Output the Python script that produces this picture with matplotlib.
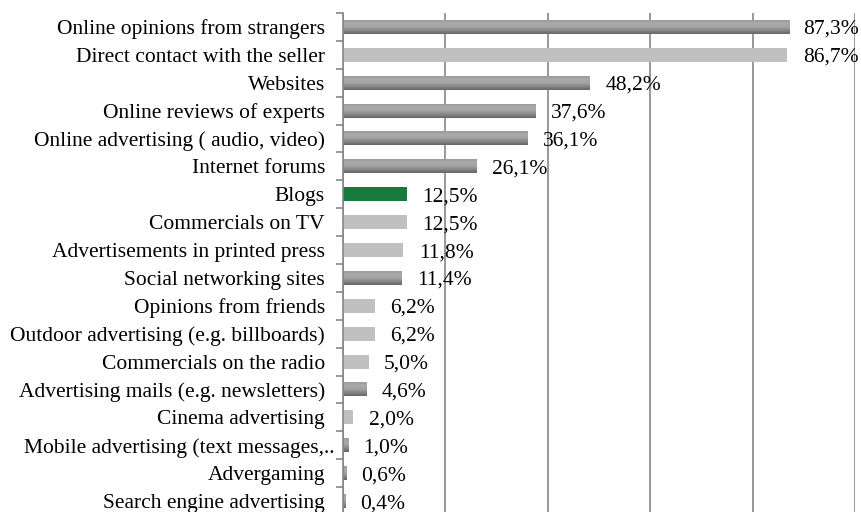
import numpy as np
import matplotlib.pyplot as plt
from matplotlib.colors import LinearSegmentedColormap
from matplotlib.transforms import ScaledTranslation

categories = [
    "Online opinions from strangers",
    "Direct contact with the seller",
    "Websites",
    "Online reviews of experts",
    "Online advertising ( audio, video)",
    "Internet forums",
    "Blogs",
    "Commercials on TV",
    "Advertisements in printed press",
    "Social networking sites",
    "Opinions from friends",
    "Outdoor advertising (e.g. billboards)",
    "Commercials on the radio",
    "Advertising mails (e.g. newsletters)",
    "Cinema advertising",
    "Mobile advertising (text messages,..",
    "Advergaming",
    "Search engine advertising",
]
values = [87.3, 86.7, 48.2, 37.6, 36.1, 26.1, 12.5, 12.5, 11.8, 11.4,
          6.2, 6.2, 5.0, 4.6, 2.0, 1.0, 0.6, 0.4]
# d = dark gradient, l = light flat, g = green
styles = ["d", "l", "d", "d", "d", "d", "g", "l", "l", "d",
          "l", "l", "l", "d", "l", "d", "d", "d"]

plt.rcParams["font.family"] = "Liberation Serif"
fs = 15.5

fig = plt.figure(figsize=(8.61, 5.12), dpi=100)
ax = fig.add_axes([343 / 861, -3 / 512, 512 / 861, 502 / 512])

y = np.arange(len(categories))
h = 0.5
grad = LinearSegmentedColormap.from_list(
    "g", ["#9c9c9c", "#ababab", "#a2a2a2", "#868686", "#666666"])
gimg = np.linspace(0, 1, 64).reshape(-1, 1)

for yi, v, s in zip(y, values, styles):
    if s == "l":
        ax.barh(yi, v, height=h, color="#c0c0c0", zorder=2)
    elif s == "g":
        ax.barh(yi, v, height=h, color="#17793b", zorder=2)
    else:
        ax.imshow(gimg, cmap=grad, aspect="auto", zorder=2,
                  extent=(0, v, yi + h / 2, yi - h / 2),
                  interpolation="bilinear")
    lab = f"{v:.1f}%".replace(".", ",")
    if v > 80:
        ax.text(100.7, yi, lab, va="center_baseline", ha="right",
                fontsize=fs, zorder=3, clip_on=False)
    else:
        ax.text(v + 3.0, yi, lab, va="center_baseline", ha="left",
                fontsize=fs, zorder=3)

ax.set_xlim(0, 100)
ax.set_ylim(len(categories) - 0.5, -0.5)
ax.set_xticks(np.arange(0, 101, 20))
ax.xaxis.grid(True, color="#868686", linewidth=1.2, zorder=0)
ax.set_axisbelow(True)
ax.tick_params(axis="x", bottom=False, labelbottom=False)

ax.set_yticks(y)
ax.set_yticklabels(categories, fontsize=fs)
ax.set_yticks(np.arange(-0.5, len(categories), 1), minor=True)
ax.tick_params(axis="y", which="major", length=0, pad=13)
ax.tick_params(axis="y", which="minor", length=5, width=1.2, color="#868686")

# truncated label in the original sits a little further right
mob = ax.get_yticklabels()[15]
mob.set_transform(mob.get_transform() + ScaledTranslation(10 / 100, 0, fig.dpi_scale_trans))

for side in ["top", "right", "bottom"]:
    ax.spines[side].set_visible(False)
ax.spines["left"].set_color("#868686")
ax.spines["left"].set_linewidth(1.2)

fig.savefig("out.png", dpi=100)
